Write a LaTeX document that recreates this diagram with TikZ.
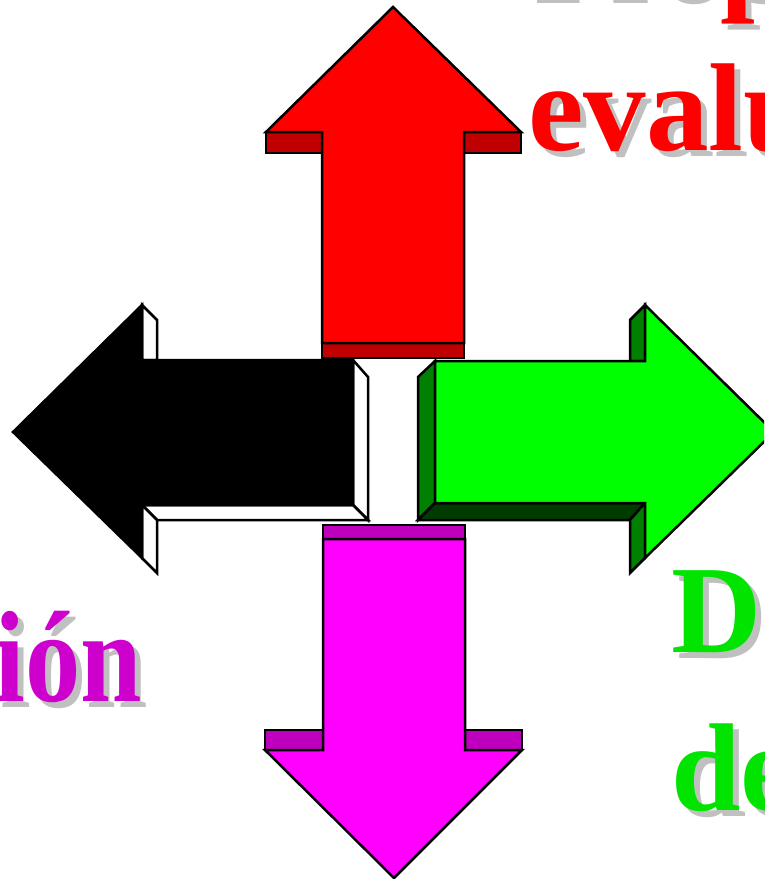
\documentclass[tikz,border=0pt]{standalone}
\usepackage{fontspec}
\setmainfont{Liberation Serif}
\definecolor{redtx}{RGB}{255,0,0}
\definecolor{greentx}{RGB}{0,228,0}
\definecolor{magtx}{RGB}{206,0,206}
\definecolor{shadowgray}{RGB}{192,192,192}
\definecolor{redface}{RGB}{255,0,0}
\definecolor{redside}{RGB}{192,0,0}
\definecolor{magface}{RGB}{255,0,255}
\definecolor{magside}{RGB}{190,0,190}
\definecolor{grnface}{RGB}{0,255,0}
\definecolor{grnside}{RGB}{0,128,0}
\definecolor{grndark}{RGB}{0,60,0}
\begin{document}
\begin{tikzpicture}[x=1pt,y=-1pt,
  face/.style={draw=black,line width=2.5pt,line join=miter},
  bigtxt/.style={inner sep=0pt,outer sep=0pt,font=\fontsize{125}{150}\selectfont\bfseries},
  shadowtxt/.style={bigtxt,text=shadowgray}]
\useasboundingbox (0,0) rectangle (764,879);
\clip (0,0) rectangle (764,879);

% ---------- texts (shadow first) ----------
\node[shadowtxt,anchor=base west] (t1s) at (534,3) {Propuesta};
\node[bigtxt,text=redtx,anchor=base west] (t1) at (528,-3) {Propuesta};
\node[shadowtxt,anchor=base west] (t2s) at (534,156) {evaluación};
\node[bigtxt,text=redtx,anchor=base west] (t2) at (528,150) {evaluación};

\node[shadowtxt,anchor=base west] (g1s) at (677,658) {Desarrollo};
\node[bigtxt,text=greentx,anchor=base west] (g1) at (671,652) {Desarrollo};
\node[shadowtxt,anchor=base west] (g2s) at (677,816) {de};
\node[bigtxt,text=greentx,anchor=base west] (g2) at (671,810) {de};
\node[shadowtxt,anchor=base west] (g3s) at (677,974) {Lineamientos};
\node[bigtxt,text=greentx,anchor=base west] (g3) at (671,968) {Lineamientos};

\node[shadowtxt,anchor=base east,xscale=0.85,font=\fontsize{130}{150}\selectfont\bfseries] (m1s) at (148,707) {Implementación};
\node[bigtxt,text=magtx,anchor=base east,xscale=0.85,font=\fontsize{130}{150}\selectfont\bfseries] (m1) at (142,701) {Implementación};

% ---------- red arrow (up) ----------
\filldraw[face,fill=redside] (266,132) rectangle (322,153);
\filldraw[face,fill=redside] (464,132) rectangle (521,153);
\filldraw[face,fill=redside] (322,343) rectangle (464,358);
\filldraw[face,fill=redface] (393,7) -- (521,132) -- (464,132) -- (464,343)
  -- (322,343) -- (322,132) -- (266,132) -- cycle;

% ---------- magenta arrow (down) ----------
\filldraw[face,fill=magside] (323,525) rectangle (465,539);
\filldraw[face,fill=magside] (265,730) rectangle (323,750);
\filldraw[face,fill=magside] (465,730) rectangle (522,750);
\filldraw[face,fill=magface] (323,539) -- (465,539) -- (465,750) -- (522,750)
  -- (394,878) -- (265,750) -- (323,750) -- cycle;

% ---------- black arrow (left) ----------
\filldraw[face,fill=white] (142,305) -- (157,320) -- (157,360) -- (142,360) -- cycle;
\filldraw[face,fill=white] (353,360) -- (368,377) -- (368,520) -- (353,505) -- cycle;
\filldraw[face,fill=white] (142,505) -- (353,505) -- (368,520) -- (157,520) -- cycle;
\filldraw[face,fill=white] (142,505) -- (157,520) -- (157,573) -- (142,558) -- cycle;
\filldraw[face,fill=black] (13,432) -- (142,305) -- (142,360) -- (353,360)
  -- (353,505) -- (142,505) -- (142,558) -- cycle;

% ---------- green arrow (right) ----------
\filldraw[face,fill=grnside] (645,305) -- (630,320) -- (630,361) -- (645,361) -- cycle;
\filldraw[face,fill=grnside] (435,361) -- (418,377) -- (418,520) -- (435,503) -- cycle;
\filldraw[face,fill=grndark] (435,503) -- (645,503) -- (630,520) -- (418,520) -- cycle;
\filldraw[face,fill=grnside] (645,503) -- (630,520) -- (630,573) -- (645,558) -- cycle;
\filldraw[face,fill=grnface] (774,432) -- (645,558) -- (645,503) -- (435,503)
  -- (435,361) -- (645,361) -- (645,305) -- cycle;
\end{tikzpicture}
\end{document}
